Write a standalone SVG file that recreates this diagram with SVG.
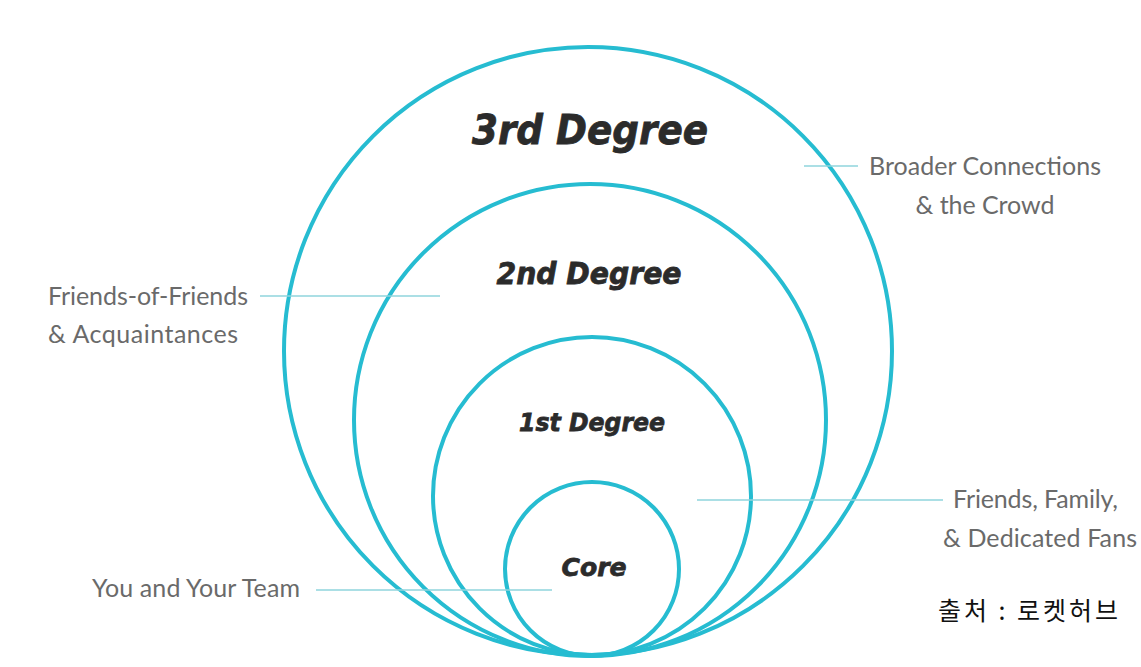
<svg xmlns="http://www.w3.org/2000/svg" width="1141" height="667" viewBox="0 0 1141 667">
<style>
.ring{fill:none;stroke:#26bcd1;stroke-width:4}
.deg{font-family:"DejaVu Sans",Lato,sans-serif;font-weight:bold;font-style:italic;fill:#2b2b2b;text-anchor:middle;stroke:#2b2b2b;stroke-width:0.8}
.lbl{font-family:Lato,"Open Sans",sans-serif;font-size:25px;fill:#6a6a6a}
.lead{stroke:#8fd4dd;stroke-width:1.6;fill:none}
</style>
<rect width="1141" height="667" fill="#ffffff"/>
<g id="ring3"><circle class="ring" cx="588" cy="351" r="304"/></g>
<g id="ring2"><circle class="ring" cx="590" cy="420" r="236"/></g>
<g id="ring1"><circle class="ring" cx="592" cy="496" r="159"/></g>
<g id="core"><circle class="ring" cx="592" cy="569" r="87"/></g>
<g id="connectors">
<line class="lead" x1="260" y1="296" x2="440" y2="296"/>
<line class="lead" x1="804" y1="166" x2="858" y2="166"/>
<line class="lead" x1="697" y1="500" x2="943" y2="500"/>
<line class="lead" x1="316" y1="590" x2="552" y2="590"/>
</g>
<g id="labels-degree">
<text class="deg" x="590" y="144" font-size="40" textLength="236" lengthAdjust="spacingAndGlyphs">3rd Degree</text>
<text class="deg" x="589" y="284" font-size="30" textLength="185" lengthAdjust="spacingAndGlyphs">2nd Degree</text>
<text class="deg" x="592" y="431" font-size="25" textLength="146" lengthAdjust="spacingAndGlyphs">1st Degree</text>
<text class="deg" x="594" y="576" font-size="25" textLength="65" lengthAdjust="spacingAndGlyphs">Core</text>
</g>
<g id="label-3rd"><text class="lbl" x="985" y="175" text-anchor="middle" textLength="232">Broader Connections</text><text class="lbl" x="985" y="214" text-anchor="middle" textLength="139">&amp; the Crowd</text></g>
<g id="label-2nd"><text class="lbl" x="48" y="305" textLength="200">Friends-of-Friends</text><text class="lbl" x="48" y="343" textLength="190">&amp; Acquaintances</text></g>
<g id="label-1st"><text class="lbl" x="953" y="508" textLength="165">Friends, Family,</text><text class="lbl" x="943" y="547" textLength="194">&amp; Dedicated Fans</text></g>
<g id="label-core"><text class="lbl" x="92" y="597" textLength="208">You and Your Team</text></g>
<g id="source"><text x="938" y="620" font-family="'Noto Sans CJK KR',sans-serif" font-size="25" fill="#111" textLength="180">출처 : 로켓허브</text></g>
</svg>
